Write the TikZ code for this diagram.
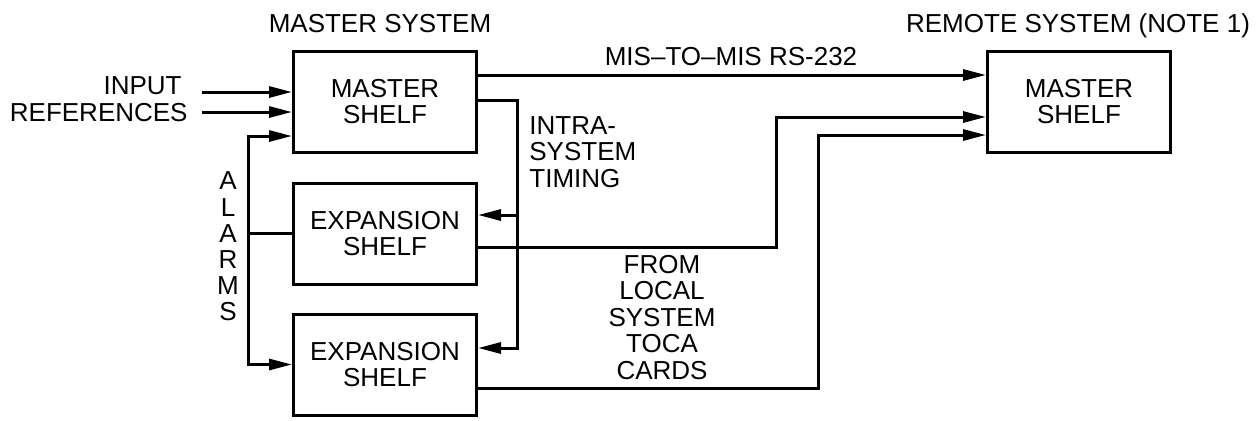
\documentclass[tikz,border=0pt]{standalone}
\usepackage{fontspec}
\setmainfont{Liberation Sans}
\usepackage{tikz}
\usetikzlibrary{arrows.meta, positioning, calc}

\begin{document}
\begin{tikzpicture}[
  x=0.5pt, y=-0.5pt,
  shelf/.style={rectangle, draw=black, line width=1.5pt, minimum width=91.5pt,
                minimum height=50.5pt, inner sep=0pt, align=center,
                font=\fontsize{13}{13.25}\selectfont},
  lbl/.style={inner sep=0pt, font=\fontsize{13}{13.25}\selectfont},
  sig/.style={-{Triangle[length=11.5pt, width=5.5pt]}, line width=1.5pt},
  sigboth/.style={{Triangle[length=11.5pt, width=5.5pt]}-{Triangle[length=11.5pt, width=5.5pt]}, line width=1.5pt},
  wire/.style={line width=1.5pt}
]
\useasboundingbox (0,0) rectangle (1257,420);

% Shelves
\node[shelf] (master) at (385,101.5) {MASTER\\SHELF};
\node[shelf] (exp1) at (385,233.5) {EXPANSION\\SHELF};
\node[shelf] (exp2) at (385,364.5) {EXPANSION\\SHELF};
\node[shelf] (remote) at (1079,101.5) {MASTER\\SHELF};

% Titles and labels
\node[lbl, anchor=base] (mastertitle) at (380,32) {MASTER SYSTEM};
\node[lbl, anchor=base] (remotetitle) at (1078,32) {REMOTE SYSTEM (NOTE 1)};
\node[lbl, anchor=east] (inputlbl) at (182,86) {INPUT};
\node[lbl, anchor=east] (reflbl) at (188,112.5) {REFERENCES};
\node[lbl, anchor=base] (mislbl) at (731,65) {MIS–TO–MIS RS-232};
\node[lbl, anchor=west, align=left] (timlbl) at (529,152) {INTRA-\\SYSTEM\\TIMING};
\node[lbl, align=center] (toclbl) at (662,317.5) {FROM\\LOCAL\\SYSTEM\\TOCA\\CARDS};
\node[lbl, align=center, font=\fontsize{13}{13.1}\selectfont] (almlbl) at (228,246.5) {A\\L\\A\\R\\M\\S};

% Bend points
\coordinate (in1) at (202,92);
\coordinate (in2) at (202,112);
\coordinate (mis) at (700,75);
\coordinate (tim) at (517,100);
\coordinate (tim1) at (517,215);
\coordinate (tim2) at (517,348);
\coordinate (alm) at (248,136);
\coordinate (loc1) at (776,247);
\coordinate (loc1b) at (776,117);
\coordinate (loc2) at (818,388);
\coordinate (loc2b) at (818,135);

% Input references and alarms
\draw[sig] (in1) -- (master.west |- in1);
\draw[sig] (in2) -- (master.west |- in2);
\draw[sigboth] (master.west |- alm) -- (alm) |- (exp2.west);
\draw[wire] (exp1.west) -- (alm |- exp1.west);

% Intra-system timing
\draw[sig] (master.east |- tim) -| (tim2) -- (exp2.east |- tim2);
\draw[sig] (tim1) -- (exp1.east |- tim1);

% Links to the remote system
\draw[sig] (master.east |- mis) -- (remote.west |- mis);
\draw[sig] (exp1.east |- loc1) -| (loc1b) -- (remote.west |- loc1b);
\draw[sig] (exp2.east |- loc2) -| (loc2b) -- (remote.west |- loc2b);

\end{tikzpicture}
\end{document}
